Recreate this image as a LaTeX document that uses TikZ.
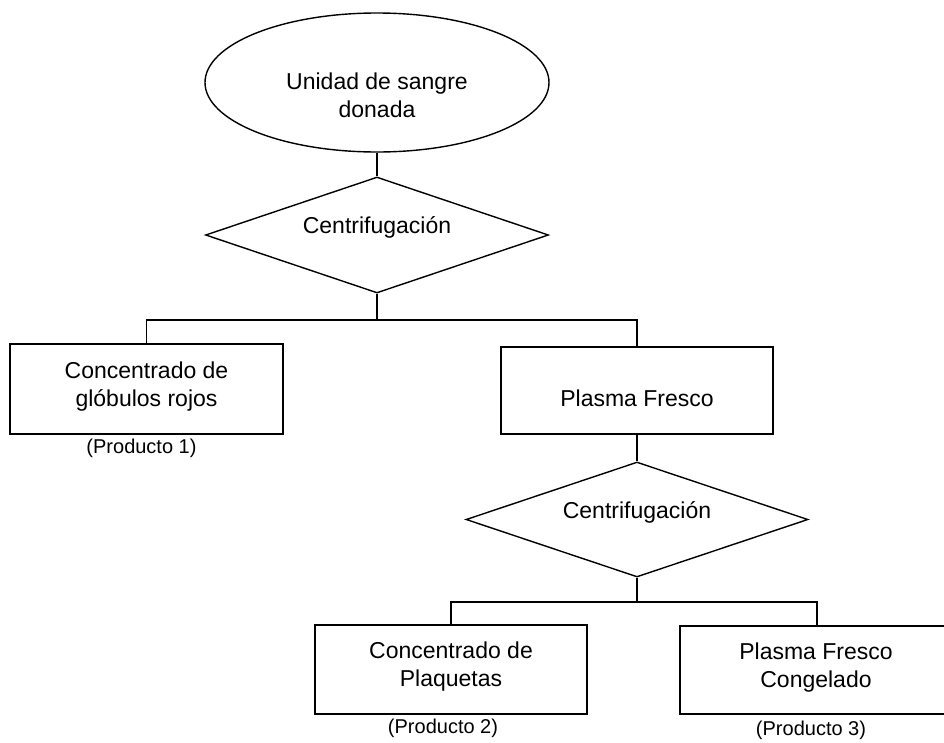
\documentclass[tikz,border=0pt]{standalone}
\usepackage{fontspec}
\setmainfont{Liberation Sans}
\usetikzlibrary{shapes.geometric}

\tikzset{
  shapeline/.style={draw=black, line width=1.4pt, fill=none, inner sep=0pt},
  startnode/.style={shapeline, ellipse},
  decision/.style={shapeline, diamond},
  product/.style={shapeline, rectangle},
  link/.style={draw=black, line width=1.4pt},
  % multi-line labels: the base anchor sits on the last line's baseline
  maintext/.style={inner sep=0pt, align=center, anchor=base,
    font=\fontsize{23}{27.5}\selectfont},
  tagtext/.style={inner sep=0pt, anchor=base, font=\fontsize{20}{24}\selectfont},
}

\begin{document}
\begin{tikzpicture}[x=1pt, y=-1pt]
  \useasboundingbox (0,0) rectangle (944,742);
  \clip (0,0) rectangle (944,742);
  \fill[white] (0,0) rectangle (944,742);

  % shapes
  \node[startnode, minimum width=344pt, minimum height=139pt] (donor) at (377,82.5) {};
  \node[decision, minimum width=343pt, minimum height=116pt] (spin1) at (377,235) {};
  \node[product, minimum width=273pt, minimum height=90pt] (rbc) at (146.5,389) {};
  \node[product, minimum width=272pt, minimum height=87pt] (plasma) at (637,390.5) {};
  \node[decision, minimum width=342pt, minimum height=115pt] (spin2) at (637,519.5) {};
  \node[product, minimum width=272pt, minimum height=89pt] (platelets) at (451,669.5) {};
  \node[product, minimum width=274pt, minimum height=88pt] (ffp) at (817,670) {};

  % branching points
  \coordinate (split1) at (377,320);
  \coordinate (split2) at (637,602);

  % connectors
  \draw[link] (donor.south) -- (spin1.north);
  \draw[link] (spin1.south) -- (split1);
  \draw[link] (rbc.north) |- (split1) -| (plasma.north);
  \draw[link] (plasma.south) -- (spin2.north);
  \draw[link] (spin2.south) -- (split2);
  \draw[link] (platelets.north) |- (split2) -| (ffp.north);

  % labels
  \node[maintext] (donortext) at (377,117) {Unidad de sangre\\donada};
  \node[maintext] (spin1text) at (377,233) {Centrifugación};
  \node[maintext] (rbctext) at (146.5,406) {Concentrado de\\glóbulos rojos};
  \node[tagtext] (prod1) at (141.5,453) {(Producto 1)};
  \node[maintext] (plasmatext) at (637,406) {Plasma Fresco};
  \node[maintext] (spin2text) at (637,518) {Centrifugación};
  \node[maintext] (platelettext) at (451,686) {Concentrado de\\Plaquetas};
  \node[maintext] (ffptext) at (816,687) {Plasma Fresco\\Congelado};
  \node[tagtext] (prod2) at (443,733) {(Producto 2)};
  \node[tagtext] (prod3) at (811,735) {(Producto 3)};
\end{tikzpicture}
\end{document}
